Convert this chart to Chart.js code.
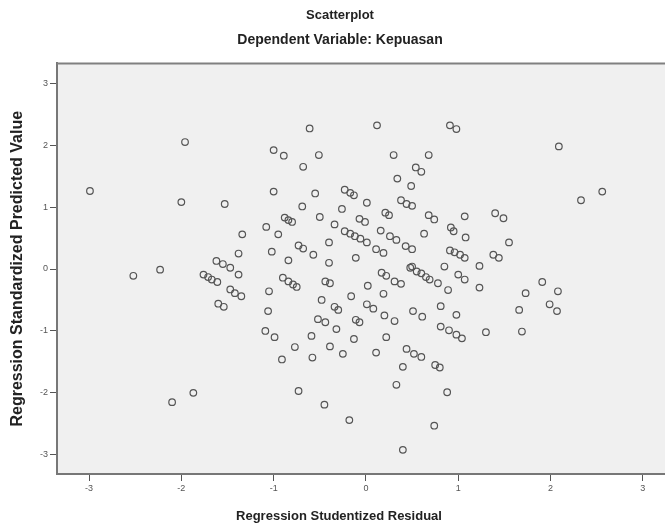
<!DOCTYPE html>
<html>
<head>
<meta charset="utf-8">
<script src="https://cdn.jsdelivr.net/npm/chart.js@4"></script>
<style>
  html, body { margin: 0; padding: 0; background: #fff; overflow: hidden; }
  #wrap { width: 665px; height: 526px; }
  canvas { display: block; }
</style>
</head>
<body>
<div id="wrap"><canvas id="chart"></canvas></div>
<script>
// regression studentized residual (x) vs standardized predicted value (y)
const residual = [
  -1.96, -2.99, -2.00, -1.53, -1.08, -1.34, -1.00, -1.00, -1.38, -1.02, -1.62, -1.55, -1.47, -2.23,
  -0.61, 0.12, 0.91, 0.98, -0.89, -0.51, 0.30, 0.68, -0.68, 0.54, 0.60, 0.34, 0.49, -0.55, -0.23, -0.17,
  -0.13, 0.01, 0.38, 0.44, 0.50, -0.69, -0.26, -0.88, -0.84, -0.80, -0.50, -0.07, -0.01, 0.21, 0.25,
  0.68, 0.74, 1.07, -0.34, -0.95, -0.23, -0.17, -0.12, -0.06, 0.01, 0.16, 0.26, 0.33, 0.63, 0.92, 0.95,
  1.08, -0.40, -0.73, -0.68, -0.57, -0.84, -0.40, -0.11, 0.11, 0.19, 0.43, 0.50, 0.91, 0.96, 1.02, 1.07,
  0.50, 0.85, 2.09, 2.56, 2.33, 1.40, 1.49, 1.55, 1.38, 1.44, 1.23,
  -2.52, -1.38, -1.76, -1.71, -1.67, -1.61, -1.47, -1.42, -1.35, -1.60, -1.54, -1.05, -1.06, -1.09,
  -0.99, -1.87, -2.10,
  -0.90, -0.84, -0.79, -0.75, -0.44, -0.39, -0.48, -0.34, -0.30, -0.16, 0.02, 0.17, 0.22, 0.31, 0.38,
  0.19, 0.48, 0.55, 0.60, 0.65, 0.69, 0.78, 0.89, 1.00, 1.07, 0.01, 0.08, -0.11, -0.07, -0.52, -0.44,
  -0.32, 0.20, 0.31, 0.51, 0.61, 0.81, 0.98, 0.81, 0.90, 0.98, 1.04, -0.59, -0.13, 0.22, -0.77, -0.39,
  -0.91, -0.58, -0.25, 0.11, 0.44, 0.52, 0.60, 0.40, 0.75, 0.80, 0.33, 0.88, -0.73, -0.45, -0.18, 0.74,
  0.40,
  1.23, 1.30, 1.73, 1.91, 2.08, 1.99, 2.07, 1.66, 1.69
]
const predicted = [
  2.05, 1.26, 1.08, 1.05, 0.68, 0.56, 1.92, 1.25, 0.25, 0.28, 0.13, 0.08, 0.02, -0.01,
  2.27, 2.32, 2.32, 2.26, 1.83, 1.84, 1.84, 1.84, 1.65, 1.64, 1.57, 1.46, 1.34, 1.22, 1.28, 1.23,
  1.19, 1.07, 1.11, 1.05, 1.02, 1.01, 0.97, 0.83, 0.79, 0.76, 0.84, 0.81, 0.76, 0.91, 0.87,
  0.87, 0.80, 0.85, 0.72, 0.56, 0.61, 0.57, 0.53, 0.49, 0.43, 0.62, 0.53, 0.47, 0.57, 0.67, 0.61,
  0.51, 0.43, 0.38, 0.33, 0.23, 0.14, 0.10, 0.18, 0.32, 0.26, 0.37, 0.32, 0.30, 0.27, 0.23, 0.18,
  0.04, 0.04, 1.98, 1.25, 1.11, 0.90, 0.82, 0.43, 0.23, 0.18, 0.05,
  -0.11, -0.09, -0.09, -0.13, -0.17, -0.21, -0.33, -0.39, -0.44, -0.56, -0.61, -0.36, -0.68, -1.00,
  -1.10, -2.00, -2.15,
  -0.14, -0.20, -0.25, -0.29, -0.20, -0.23, -0.50, -0.61, -0.66, -0.44, -0.27, -0.06, -0.11, -0.20, -0.24,
  -0.40, 0.02, -0.04, -0.07, -0.13, -0.17, -0.23, -0.34, -0.09, -0.17, -0.57, -0.64, -0.82, -0.86, -0.81, -0.86,
  -0.97, -0.75, -0.84, -0.68, -0.77, -0.60, -0.74, -0.93, -0.99, -1.06, -1.12, -1.08, -1.13, -1.10, -1.26, -1.25,
  -1.46, -1.43, -1.37, -1.35, -1.29, -1.37, -1.42, -1.58, -1.55, -1.59, -1.87, -1.99, -1.97, -2.19, -2.44, -2.53,
  -2.92,
  -0.30, -1.02, -0.39, -0.21, -0.36, -0.57, -0.68, -0.66, -1.01
]
const xTicks = [-3, -2, -1, 0, 1, 2, 3]
const yTicks = [-3, -2, -1, 0, 1, 2, 3]
const xTitle = 'Regression Studentized Residual'

const points = residual.map((x, i) => ({ x, y: predicted[i] }))

const fam = "'Liberation Sans', Arial, sans-serif"
const tickFont = { family: fam, size: 9 }

// gray plot background, top frame line and the x axis title (SPSS centres it
// over the whole figure, not over the plot area)
const plotFrame = {
  id: 'plotFrame',
  beforeDraw(chart) {
    const { ctx, chartArea: a } = chart
    ctx.save()
    ctx.fillStyle = '#f0f0f0'
    ctx.fillRect(a.left, a.top, a.right - a.left, a.bottom - a.top)
    ctx.restore()
  },
  afterDraw(chart) {
    const { ctx, chartArea: a } = chart
    ctx.save()
    ctx.strokeStyle = '#808080'
    ctx.lineWidth = 2
    ctx.beginPath()
    ctx.moveTo(a.left, a.top)
    ctx.lineTo(a.right, a.top)
    ctx.stroke()
    ctx.fillStyle = '#222'
    ctx.font = `bold 13px ${fam}`
    ctx.textAlign = 'center'
    ctx.textBaseline = 'middle'
    ctx.fillText(xTitle, 339, 516)
    ctx.restore()
  },
}

new Chart(document.getElementById('chart'), {
  type: 'scatter',
  data: {
    datasets: [{
      data: points,
      pointStyle: 'circle',
      pointRadius: 3.3,
      pointBorderWidth: 1.2,
      pointBorderColor: '#555',
      pointBackgroundColor: 'rgba(0,0,0,0)',
      pointHoverRadius: 3.3,
    }],
  },
  options: {
    responsive: true,
    maintainAspectRatio: false,
    animation: false,
    events: [],
    layout: { autoPadding: false, padding: { left: 15, right: 0, top: 0, bottom: 0 } },
    plugins: {
      legend: { display: false },
      tooltip: { enabled: false },
      title: {
        display: true,
        text: 'Scatterplot',
        color: '#222',
        font: { family: fam, size: 13, weight: 'bold' },
        padding: { top: 8, bottom: 8 },
      },
      subtitle: {
        display: true,
        text: 'Dependent Variable: Kepuasan',
        color: '#222',
        font: { family: fam, size: 14, weight: 'bold' },
        padding: { top: 0, bottom: 15 },
      },
    },
    scales: {
      x: {
        type: 'linear',
        min: -3.347,
        max: 3.24,
        afterFit: s => { s.height = 52 },
        afterBuildTicks: s => { s.ticks = xTicks.map(v => ({ value: v })) },
        grid: { drawOnChartArea: false, drawTicks: true, tickLength: 7, color: '#555' },
        border: { display: true, color: '#777', width: 2 },
        ticks: { color: '#555', font: tickFont, padding: 2, maxRotation: 0 },
      },
      y: {
        type: 'linear',
        min: -3.31,
        max: 3.32,
        afterFit: s => { s.width = 42 },
        afterBuildTicks: s => { s.ticks = yTicks.map(v => ({ value: v })) },
        grid: { drawOnChartArea: false, drawTicks: true, tickLength: 7, color: '#555' },
        border: { display: true, color: '#777', width: 2 },
        ticks: { color: '#555', font: tickFont, padding: 2 },
        title: {
          display: true,
          text: 'Regression Standardized Predicted Value',
          color: '#222',
          font: { family: fam, size: 16, weight: 'bold' },
          padding: { top: -7, bottom: 0 },
        },
      },
    },
  },
  plugins: [plotFrame],
})
</script>
</body>
</html>
